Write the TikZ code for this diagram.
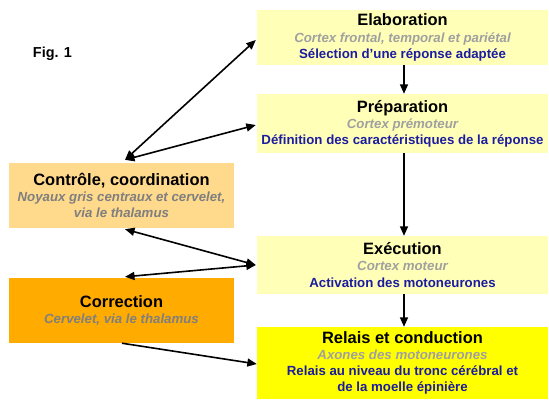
\documentclass[tikz,border=0pt]{standalone}
\usepackage{fontspec}
\setmainfont{Liberation Sans}
\usetikzlibrary{arrows.meta}
\definecolor{paley}{HTML}{FFFFB8}
\definecolor{brighty}{HTML}{FFFF00}
\definecolor{lightor}{HTML}{FFD98C}
\definecolor{darkor}{HTML}{FFAB00}
\definecolor{detblue}{HTML}{1C1CA0}
\definecolor{subgray}{HTML}{A0A0A0}
\definecolor{subgrayd}{HTML}{7F7F7F}
\newcommand\mkhead[1]{{\fontsize{16.5}{16.5}\selectfont #1}}
\newcommand\mksub[1]{{\itshape\color{subgray}#1}}
\newcommand\mksubd[1]{{\itshape\color{subgrayd}#1}}
\newcommand\mkdet[1]{{\color{detblue}#1}}
\tikzset{
  box/.style={rectangle, draw=none, inner sep=0pt, align=center,
    font=\bfseries\fontsize{13.3}{16.2}\selectfont},
  rbox/.style={box, minimum width=291bp},
  lbox/.style={box, minimum width=225bp, minimum height=65bp},
  conn/.style={line width=1.6bp, -{Triangle[length=9.5bp,width=8bp]}},
  dconn/.style={line width=1.6bp, {Triangle[length=9.5bp,width=8bp]}-{Triangle[length=9.5bp,width=8bp]}},
}
\begin{document}
\begin{tikzpicture}[x=1bp,y=-1bp]
\useasboundingbox (0,0) rectangle (549,399);
\node[font=\bfseries\fontsize{14.5}{16}\selectfont] (fig) at (52.5,53.5) {Fig. 1};
\node[rbox, fill=paley, minimum height=55bp] (elab) at (402.5,37.5)
  {\mkhead{Elaboration}\\ \mksub{Cortex frontal, temporal et pariétal}\\ \mkdet{Sélection d’une réponse adaptée}};
\node[rbox, fill=paley, minimum height=59bp] (prep) at (402.5,123.5)
  {\mkhead{Préparation}\\ \mksub{Cortex prémoteur}\\ \mkdet{Définition des caractéristiques de la réponse}};
\node[rbox, fill=paley, minimum height=58bp] (exec) at (402.5,265)
  {\mkhead{Exécution}\\ \mksub{Cortex moteur}\\ \mkdet{Activation des motoneurones}};
\node[rbox, fill=brighty, minimum height=72bp] (relais) at (402.5,363)
  {\mkhead{Relais et conduction}\\ \mksub{Axones des motoneurones}\\ \mkdet{Relais au niveau du tronc cérébral et}\\ \mkdet{de la moelle épinière}};
\node[lbox, fill=lightor] (ctrl) at (121.5,195.5)
  {\mkhead{Contrôle, coordination}\\ \mksubd{Noyaux gris centraux et cervelet,}\\ \mksubd{via le thalamus}};
\node[lbox, fill=darkor] (corr) at (121.5,310.5)
  {\mkhead{Correction}\\ \mksubd{Cervelet, via le thalamus}};
\draw[conn] ([xshift=1.5bp]elab.south) -- ([xshift=1.5bp]prep.north);
\draw[conn] ([xshift=1.5bp]prep.south) -- ([xshift=1.5bp]exec.north);
\draw[conn] ([xshift=1.5bp]exec.south) -- ([xshift=1.5bp]relais.north);
\draw[dconn] ([xshift=3.5bp,yshift=3bp]ctrl.north) -- ([xshift=-1bp,yshift=-2.5bp]elab.west);
\draw[dconn] ([xshift=3.5bp,yshift=3bp]ctrl.north) -- ([xshift=-1bp,yshift=-1.5bp]prep.west);
\draw[dconn] ([xshift=3.5bp,yshift=-1bp]ctrl.south) -- ([xshift=-1bp]exec.west);
\draw[dconn] ([xshift=3.5bp,yshift=1bp]corr.north) -- ([xshift=-1bp]exec.west);
\draw[conn] ([xshift=0.5bp]corr.south) -- ([yshift=-1bp]relais.west);
\end{tikzpicture}
\end{document}
